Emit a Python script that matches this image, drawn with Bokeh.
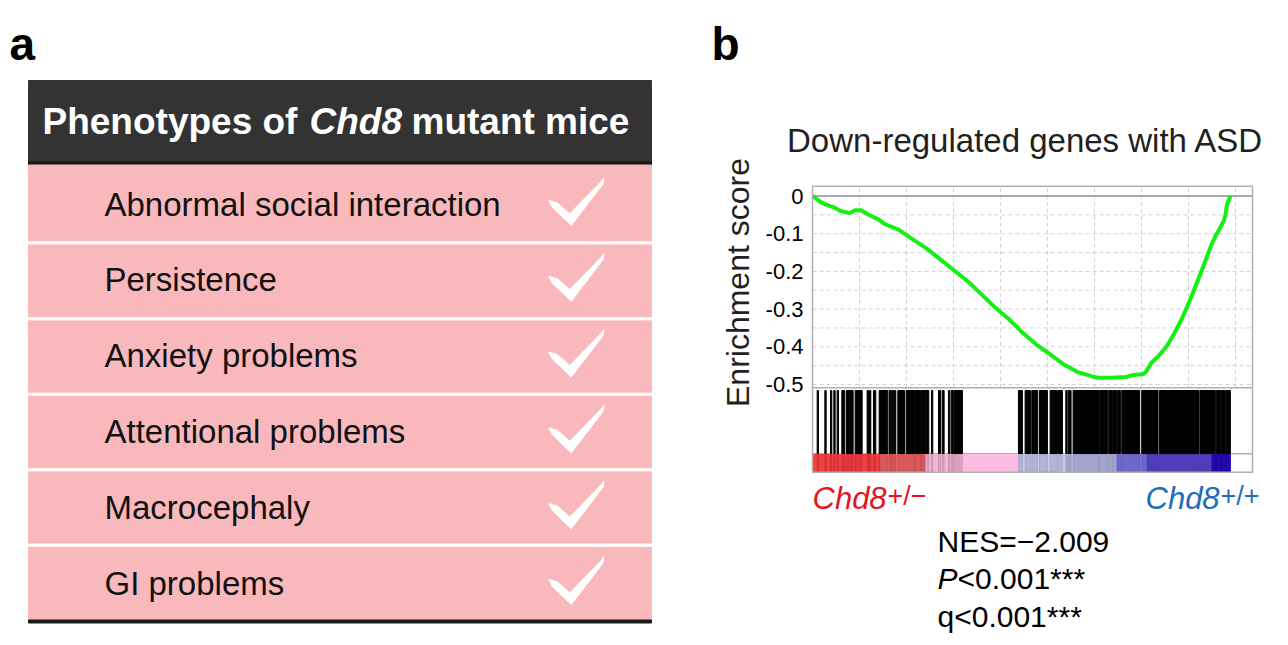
import math
from bokeh.plotting import figure
from bokeh.models import Range1d, FixedTicker, LinearAxis
from bokeh.core.properties import value
from bokeh.embed import file_html
from bokeh.resources import INLINE

FONT = "Liberation Sans"

# ---------------- Panel a data ----------------
header_parts = ["Phenotypes of", "Chd8", "mutant mice"]
phenotypes = ["Abnormal social interaction", "Persistence", "Anxiety problems",
              "Attentional problems", "Macrocephaly", "GI problems"]
present = [True, True, True, True, True, True]

# ---------------- Panel b data ----------------
es_rank = [0, 322, 541, 906, 1191, 1564, 1812, 2075, 2368, 2806, 3098, 3683, 4268,
           4852, 5437, 6021, 6606, 7191, 7775, 8360, 8944, 9529, 10114, 10698,
           11283, 11867, 12160, 12744, 13329, 13621, 14060, 14206, 14425, 14717,
           15083, 15375, 15740, 16106, 16471, 16690, 16983, 17202, 17300, 17420,
           17500, 17574, 17620, 17660, 17720, 17787]
es_value = [0.0, -0.015, -0.022, -0.030, -0.040, -0.045, -0.038, -0.038, -0.049,
            -0.062, -0.075, -0.090, -0.115, -0.139, -0.168, -0.197, -0.226, -0.261,
            -0.296, -0.327, -0.363, -0.394, -0.420, -0.447, -0.467, -0.478, -0.482,
            -0.482, -0.480, -0.475, -0.473, -0.465, -0.442, -0.425, -0.398, -0.367,
            -0.323, -0.270, -0.212, -0.177, -0.128, -0.100, -0.090, -0.075, -0.066,
            -0.050, -0.030, -0.020, -0.010, 0.0]

hit_start = [199, 525, 766, 907, 1049, 1248, 1446, 1815, 2325, 2425, 2595, 2836, 3261,
             3375, 3488, 3630, 3984, 4367, 4622, 4793, 5062, 5360, 5516, 5785, 5899,
             6012, 8763, 9047, 9330, 9657, 10110, 10465, 10777, 10876, 11089, 12223,
             12606, 12790, 12975, 13159, 14010, 14761, 16491, 17186, 17399, 17612]
hit_end = [255, 581, 822, 964, 1106, 1375, 1730, 2113, 2382, 2481, 2694, 3205, 3346,
           3460, 3545, 3914, 4339, 4594, 4764, 4949, 5119, 5445, 5601, 5842, 5984,
           6381, 8933, 9274, 9585, 9997, 10422, 10635, 10833, 11004, 12195, 12563,
           12762, 12932, 13102, 13925, 14704, 16449, 17143, 17370, 17583, 17782]

bar_start = [0, 2893, 4807, 6367, 8777, 10833, 12960, 14236, 17001]
bar_end = [2893, 4807, 6367, 8777, 10833, 12960, 14236, 17001, 17782]
bar_color = ["#f53e42", "#f26268", "#f4b4d2", "#fdbde3", "#c8c8ee", "#b8b8e4",
             "#7a74e0", "#5846cc", "#2a08c0"]

es_ticks = [-0.5, -0.4, -0.3, -0.2, -0.1, 0.0]
es_tick_labels = ["-0.5", "-0.4", "-0.3", "-0.2", "-0.1", "0"]
es_minor_grid = [-0.5, -0.45, -0.4, -0.35, -0.3, -0.25, -0.2, -0.15, -0.1, -0.05]
rank_grid = [2000, 4000, 6000, 8000, 10000, 12000, 14000, 16000, 18000]

title_b = "Down-regulated genes with ASD"
ylabel_b = "Enrichment score"
group_labels = ["Chd8", "Chd8"]
group_sups = ["+/\u2212", "+/+"]
group_colors = ["#e5141f", "#1d6db7"]
nes_text = "NES=\u22122.009"
p_text = "<0.001***"
q_text = "q<0.001***"

# ================= one canvas, pixel coordinates =================
W, H = 1284, 642
X_PER_PX = 2000 / 47.0


def xd(px):
    return (px - 812) * X_PER_PX


def yd(py):
    return (195.5 - py) / 377.0


p = figure(width=W, height=H, x_range=Range1d(0, W), y_range=Range1d(H, 0),
           output_backend="svg", toolbar_location=None, min_border=0,
           x_axis_location=None, y_axis_location=None, outline_line_color=None)
p.grid.visible = False
p.background_fill_color = "white"
p.border_fill_color = "white"
p.extra_x_ranges = {"rk": Range1d(xd(0), xd(W))}
p.extra_y_ranges = {"es": Range1d(yd(H), yd(0))}

MID = dict(text_font=value(FONT), text_baseline="middle")

# ---------- panel a ----------
TL, TR = 28, 651
p.quad(left=TL, right=TR, top=80, bottom=161.5, color="#333333")
p.quad(left=TL, right=TR, top=161.5, bottom=164.5, color="#151515")
p.quad(left=TL, right=TR, top=164.5, bottom=619.5, color="#f9b9bc")
p.quad(left=TL, right=TR, top=619.5, bottom=622.5, color="#1a1a1a")
seps = [242.3, 318.3, 393.8, 469.3, 544.6]
p.quad(left=TL, right=TR, top=[s - 1.1 for s in seps], bottom=[s + 1.1 for s in seps],
       color="white")

centers = [204 + 75.8 * i for i in range(len(phenotypes))]
p.text(x=104, y=[c - 0.5 for c in centers], text=phenotypes, text_font_size="33px",
       text_color="#111111", **MID)

chk_dx = [-0.7, 7.7, 20.3, 51, 54.3, 53.7, 21.7, 2.7]
chk_dy = [-4, -1.7, 9.3, -22.3, -26.7, -20.7, 21, 2.7]
xs, ys = [], []
for c, pr in zip(centers, present):
    if pr:
        xs.append([549 + d for d in chk_dx])
        ys.append([c + d for d in chk_dy])
p.patches(xs=xs, ys=ys, color="white")

hx = [42, 309, 411]
hstyle = ["bold", "bold italic", "bold"]
for x0, t, st in zip(hx, header_parts, hstyle):
    p.text(x=[x0], y=[121], text=[t], text_font_size="37px", text_font_style=st,
           text_color="white", **MID)

p.text(x=[9, 711], y=[43.5, 43.5], text=["a", "b"], text_font_size="46px",
       text_font_style="bold", text_color="black", **MID)

# ---------- panel b ----------
R = dict(x_range_name="rk", y_range_name="es")
XR = xd(1252)
p.segment(x0=rank_grid, x1=rank_grid, y0=yd(387.3), y1=yd(185.7),
          line_color="#d2d2d2", line_dash="4 3", line_width=1, **R)
p.segment(x0=0, x1=XR, y0=es_minor_grid, y1=es_minor_grid,
          line_color="#d2d2d2", line_dash="4 3", line_width=1, **R)
p.segment(x0=[0], x1=[XR], y0=[0], y1=[0], line_color="#8c8c8c", line_width=1.5, **R)
p.segment(x0=[0, 0], x1=[XR, XR], y0=[yd(387.3), yd(453.3)],
          y1=[yd(387.3), yd(453.3)], line_color="#b0b0b0", line_width=1.5, **R)
p.quad(left=hit_start, right=hit_end, top=yd(390), bottom=yd(453), color="black", **R)
p.quad(left=bar_start, right=bar_end, top=yd(454), bottom=yd(471), color=bar_color, **R)
p.quad(left=hit_start, right=hit_end, top=yd(454), bottom=yd(471), color="black",
       alpha=0.1, **R)
p.line(es_rank, es_value, line_color="#14f014", line_width=4, **R)
p.quad(left=[0], right=[XR], top=[yd(185.7)], bottom=[yd(471.7)], fill_color=None,
       line_color="#b0b0b0", line_width=1.5, **R)

ax = LinearAxis(y_range_name="es", fixed_location=812,
                ticker=FixedTicker(ticks=es_ticks))
ax.major_label_overrides = {t: l for t, l in zip(es_ticks, es_tick_labels)}
ax.major_label_text_font = FONT
ax.major_label_text_font_size = "22px"
ax.major_label_text_color = "black"
ax.major_tick_line_color = None
ax.minor_tick_line_color = None
ax.major_tick_out = 0
ax.major_tick_in = 0
ax.minor_tick_out = 0
ax.minor_tick_in = 0
ax.axis_line_color = None
ax.major_label_standoff = 9
p.add_layout(ax, "left")

p.text(x=[1025], y=[139.5], text=[title_b], text_font_size="33px",
       text_color="#231f20", text_align="center", **MID)
p.text(x=[737], y=[282], text=[ylabel_b], angle=math.pi / 2, text_font_size="32px",
       text_color="#231f20", text_align="center", **MID)
p.text(x=[812, 1145], y=[498.2, 498.2], text=group_labels, text_font_size="31px",
       text_font_style="italic", text_color=group_colors, **MID)
p.text(x=[887, 1220], y=[495.3, 495.3], text=group_sups, text_font_size="27px",
       text_color=group_colors, **MID)
p.text(x=[937], y=[541], text=[nes_text], text_font_size="30px", text_color="black", **MID)
p.text(x=[937], y=[578.3], text=["P"], text_font_size="30px", text_font_style="italic",
       text_color="black", **MID)
p.text(x=[957, 937], y=[578.3, 616], text=[p_text, q_text], text_font_size="30px",
       text_color="black", **MID)

open("out.html", "w").write(file_html(p, INLINE))
